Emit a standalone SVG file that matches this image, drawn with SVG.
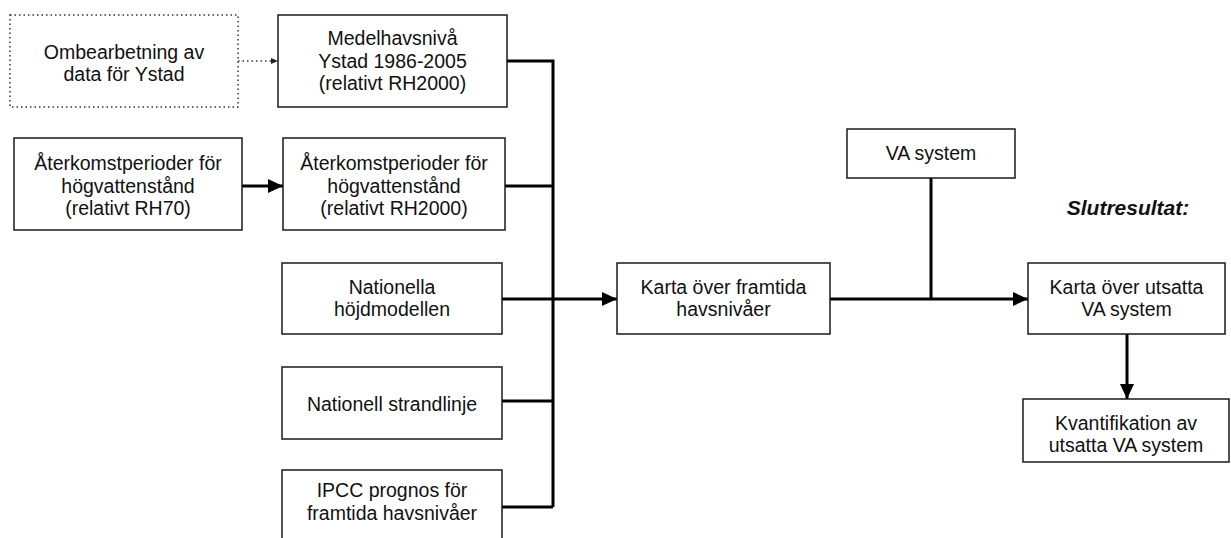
<svg xmlns="http://www.w3.org/2000/svg" width="1231" height="538" viewBox="0 0 1231 538">
<style>
.box{fill:#fff;stroke:#1a1a1a;stroke-width:1.5}
.dot{fill:#fff;stroke:#333;stroke-width:1.5;stroke-dasharray:1.5 3}
.t{font-family:"Liberation Sans",Arial,sans-serif;font-size:19.5px;fill:#111;text-anchor:middle}
.c{fill:none;stroke:#000;stroke-width:3}
.cd{fill:none;stroke:#333;stroke-width:1.3;stroke-dasharray:1.5 3}
</style>
<defs>
<marker id="ah" markerUnits="userSpaceOnUse" markerWidth="16" markerHeight="14" refX="15" refY="7" orient="auto">
<path d="M0,0 L15,7 L0,14 Z" fill="#000"/>
</marker>
<marker id="ahs" markerUnits="userSpaceOnUse" markerWidth="8" markerHeight="8" refX="7" refY="4" orient="auto">
<path d="M0,1 L7,4 L0,7 Z" fill="#222"/>
</marker>
</defs>
<g id="connectors">
<path class="cd" d="M238,61 H278" marker-end="url(#ahs)"/>
<path class="c" d="M242,186 H283" marker-end="url(#ah)"/>
<path class="c" d="M507,61 H553 V507"/>
<path class="c" d="M505,186 H553"/>
<path class="c" d="M502,401 H553"/>
<path class="c" d="M502,507 H553"/>
<path class="c" d="M502,299 H617" marker-end="url(#ah)"/>
<path class="c" d="M830,299 H1028" marker-end="url(#ah)"/>
<path class="c" d="M931,178 V299"/>
<path class="c" d="M1127,334 V399" marker-end="url(#ah)"/>
</g>
<g id="n-ombearbetning">
<rect class="dot" x="10" y="15" width="228" height="92"/>
<text class="t" x="124" y="59">Ombearbetning av</text>
<text class="t" x="124" y="81">data för Ystad</text>
</g>
<g id="n-medelhavsniva">
<rect class="box" x="278" y="15" width="229" height="92"/>
<text class="t" x="392.5" y="45">Medelhavsnivå</text>
<text class="t" x="392.5" y="68">Ystad 1986-2005</text>
<text class="t" x="392.5" y="90">(relativt RH2000)</text>
</g>
<g id="n-aterkomst-rh70">
<rect class="box" x="14" y="138" width="228" height="92"/>
<text class="t" x="128" y="170">Återkomstperioder för</text>
<text class="t" x="128" y="193">högvattenstånd</text>
<text class="t" x="128" y="215">(relativt RH70)</text>
</g>
<g id="n-aterkomst-rh2000">
<rect class="box" x="283" y="138" width="222" height="92"/>
<text class="t" x="394" y="170">Återkomstperioder för</text>
<text class="t" x="394" y="193">högvattenstånd</text>
<text class="t" x="394" y="215">(relativt RH2000)</text>
</g>
<g id="n-hojdmodellen">
<rect class="box" x="282" y="263" width="220" height="71"/>
<text class="t" x="392" y="294">Nationella</text>
<text class="t" x="392" y="316">höjdmodellen</text>
</g>
<g id="n-strandlinje">
<rect class="box" x="282" y="367" width="220" height="72"/>
<text class="t" x="392" y="411">Nationell strandlinje</text>
</g>
<g id="n-ipcc">
<rect class="box" x="282" y="470" width="220" height="74"/>
<text class="t" x="392" y="497">IPCC prognos för</text>
<text class="t" x="392" y="520">framtida havsnivåer</text>
</g>
<g id="n-karta-framtida">
<rect class="box" x="617" y="263" width="213" height="71"/>
<text class="t" x="723.5" y="294">Karta över framtida</text>
<text class="t" x="723.5" y="316">havsnivåer</text>
</g>
<g id="n-va-system">
<rect class="box" x="847" y="129" width="168" height="49"/>
<text class="t" x="931" y="160">VA system</text>
</g>
<g id="n-slutresultat">
<text class="t" x="1128" y="215" style="font-weight:bold;font-style:italic;font-size:21px">Slutresultat:</text>
</g>
<g id="n-karta-utsatta">
<rect class="box" x="1028" y="263" width="197" height="71"/>
<text class="t" x="1126.5" y="294">Karta över utsatta</text>
<text class="t" x="1126.5" y="316">VA system</text>
</g>
<g id="n-kvantifikation">
<rect class="box" x="1023" y="399" width="206" height="63"/>
<text class="t" x="1126" y="430">Kvantifikation av</text>
<text class="t" x="1126" y="452">utsatta VA system</text>
</g>
</svg>
